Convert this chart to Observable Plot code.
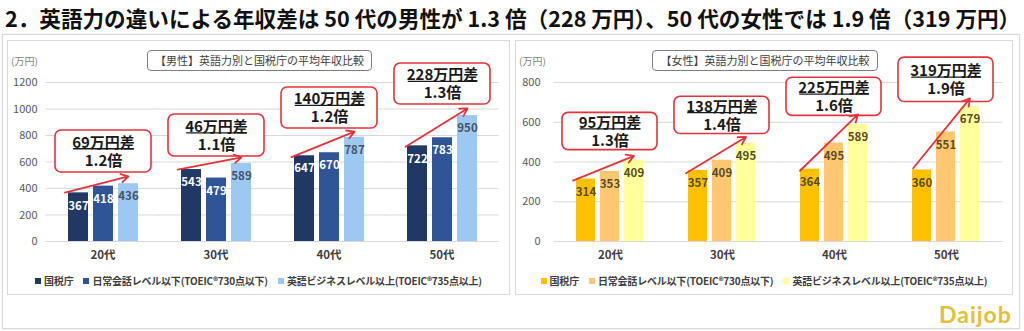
<!DOCTYPE html>
<html>
<head>
<meta charset="utf-8">
<script src="https://cdn.jsdelivr.net/npm/d3@7"></script>
<script src="https://cdn.jsdelivr.net/npm/@observablehq/plot@0.6"></script>
<style>
  body { margin:0; background:#fff; width:1024px; height:331px; position:relative; overflow:hidden;
         font-family:"Noto Sans CJK JP","Noto Sans",sans-serif; }
  .abs { position:absolute; }
  #title { left:5px; top:2px; font-size:21.6px; font-weight:bold; color:#111; white-space:nowrap; }
  #outer { left:2px; top:34px; width:1016px; height:293px; border:1px solid #d9d9d9; box-shadow:0 0 2px #e6e6e6; }
  .panel { top:40px; height:253px; border:1px solid #d9d9d9; }
  .unit { top:53px; font-size:10px; color:#7f7f7f; }
  .tbox { top:50px; height:19px; line-height:19px; border:1px solid #7f7f7f; border-radius:4px;
          font-size:11px; color:#404040; text-align:center; background:#fff; }
  .legend { top:273px; font-size:10px; font-weight:bold; color:#404040; white-space:nowrap; text-align:center; letter-spacing:-0.2px; }
  .legend span.sw { display:inline-block; width:6px; height:6px; margin-right:3px; vertical-align:1px; }
  .legend span.it { margin:0 5px; }
  #logo { left:939px; top:300px; font-family:Lato,"Open Sans",sans-serif; font-size:23px; font-weight:bold; color:#e2c03a; letter-spacing:1px; }
</style>
</head>
<body>
<div id="title" class="abs">2．英語力の違いによる年収差は 50 代の男性が 1.3 倍（228 万円）、50 代の女性では 1.9 倍（319 万円）</div>
<div id="outer" class="abs"></div>
<div id="pl" class="abs panel" style="left:7px;width:501px"></div>
<div id="pr" class="abs panel" style="left:515px;width:496px"></div>
<div id="cl" class="abs" style="left:7px;top:40px"></div>
<div id="cr" class="abs" style="left:515px;top:40px"></div>
<div class="abs unit" style="left:11px">(万円)</div>
<div class="abs unit" style="left:519px">(万円)</div>
<div class="abs tbox" style="left:147px;width:223px">【男性】英語力別と国税庁の平均年収比較</div>
<div class="abs tbox" style="left:652px;width:224px">【女性】英語力別と国税庁の平均年収比較</div>
<div id="ll" class="abs legend" style="left:7px;width:503px"></div>
<div id="lr" class="abs legend" style="left:515px;width:498px"></div>
<div id="logo" class="abs">Daijob</div>
<script>
// ---- data ----
const ages = ["20代", "30代", "40代", "50代"];
const seriesNames = ["国税庁", "日常会話レベル以下(TOEIC®730点以下)", "英語ビジネスレベル以上(TOEIC®735点以上)"];

const maleNTA   = [367, 543, 647, 722];
const maleDaily = [418, 479, 670, 783];
const maleBiz   = [436, 589, 787, 950];
const femaleNTA   = [314, 357, 364, 360];
const femaleDaily = [353, 409, 495, 551];
const femaleBiz   = [409, 495, 589, 679];

const maleTicks   = [0, 200, 400, 600, 800, 1000, 1200];
const femaleTicks = [0, 200, 400, 600, 800];

const maleDiff    = ["69万円差", "46万円差", "140万円差", "228万円差"];
const maleRatio   = ["1.2倍", "1.1倍", "1.2倍", "1.3倍"];
const femaleDiff  = ["95万円差", "138万円差", "225万円差", "319万円差"];
const femaleRatio = ["1.3倍", "1.4倍", "1.6倍", "1.9倍"];

// callout boxes and arrows, in 万円 units of each chart
const maleBoxTop      = [838, 958, 1162, 1343];
const maleBoxBottom   = [521, 642, 853, 1034];
const maleArrowFrom   = [395, 562, 676, 771];
const maleArrowTo     = [492, 635, 829, 1004];
const femaleBoxTop    = [647, 728, 824, 925];
const femaleBoxBottom = [460, 541, 632, 702];
const femaleArrowFrom = [333, 380, 405, 423];
const femaleArrowTo   = [431, 526, 640, 720];

const maleColors   = ["#1f3864", "#2f5597", "#9dc8f2"];
const femaleColors = ["#ffc000", "#ffc870", "#ffff9c"];
const maleLabelColors   = ["#ffffff", "#ffffff", "#44546a"];
const femaleLabelColors = ["#5a4b22", "#5a4b22", "#5a4b22"];

const RED = "#e2343c";
const FONT = '"Noto Sans CJK JP","Noto Sans",sans-serif';

function chart(cfg) {
  const rows = ages.flatMap((a, i) => cfg.series.map((arr, j) => ({age: a, series: seriesNames[j], value: arr[i]})));
  const calls = ages.map((a, i) => ({
    age: a, s1: seriesNames[0], s2: seriesNames[1], s3: seriesNames[2],
    top: cfg.boxTop[i], bottom: cfg.boxBottom[i], mid: (cfg.boxTop[i] + cfg.boxBottom[i]) / 2,
    from: cfg.arrowFrom[i], to: cfg.arrowTo[i], diff: cfg.diff[i], ratio: cfg.ratio[i]
  }));
  const labelMarks = seriesNames.map((s, j) =>
    Plot.text(rows.filter(d => d.series === s), {
      fx: "age", x: "series", y: "value", text: d => String(d.value),
      dy: 13, fontSize: 11.5, fontWeight: "bold", fill: cfg.labelColors[j]
    }));
  return Plot.plot({
    width: cfg.width, height: 230,
    marginLeft: 57, marginRight: cfg.marginRight, marginTop: 42, marginBottom: 29,
    style: {fontFamily: FONT, fontSize: "11px", color: "#595959", background: "transparent", overflow: "visible"},
    fx: {domain: ages, paddingInner: 0.34, paddingOuter: 0},
    x: {domain: seriesNames, paddingInner: 0.2, paddingOuter: 0.1, axis: null},
    y: {domain: [0, cfg.max]},
    color: {domain: seriesNames, range: cfg.colors},
    marks: [
      Plot.ruleY(cfg.ticks, {stroke: "#d9d9d9", strokeWidth: 1, insetLeft: -19.5, insetRight: -19.5}),
      Plot.axisY({ticks: cfg.ticks, tickFormat: d => String(d), tickSize: 0, tickPadding: cfg.tickPadding, label: null, fill: "#595959", fontSize: 11, facetAnchor: "left"}),
      Plot.axisFx({anchor: "bottom", tickSize: 0, tickPadding: 9, label: null, fontWeight: "bold", fill: "#404040", fontSize: 11.5}),
      Plot.barY(rows, {fx: "age", x: "series", y: "value", fill: "series"}),
      ...labelMarks,
      Plot.barY(calls, {fx: "age", x: "s2", y1: "bottom", y2: "top", fill: "white", stroke: RED, strokeWidth: 1.6, rx: 6, insetLeft: -38, insetRight: -38}),
      Plot.arrow(calls, {fx: "age", x1: "s1", y1: "from", x2: "s3", y2: "to", stroke: RED, strokeWidth: 1.8, headLength: 7, insetStart: -14}),
      Plot.text(calls, {fx: "age", x: "s2", y: "mid", text: "diff", dy: -8.5, fontSize: 15, fontWeight: "bold", fill: "#1a1a1a"}),
      Plot.text(calls, {fx: "age", x: "s2", y: "mid", text: "ratio", dy: 9.5, fontSize: 15, fontWeight: "bold", fill: "#1a1a1a"})
    ]
  });
}

// underline the "…万円差" lines, measured from the rendered text
function underline(svg, diffs) {
  const NS = "http://www.w3.org/2000/svg";
  svg.querySelectorAll("text").forEach(t => {
    if (!diffs.includes(t.textContent)) return;
    const b = t.getBBox();
    const ln = document.createElementNS(NS, "line");
    const yy = b.y + b.height - 3;
    ln.setAttribute("x1", b.x + 1); ln.setAttribute("x2", b.x + b.width - 1);
    ln.setAttribute("y1", yy); ln.setAttribute("y2", yy);
    ln.setAttribute("stroke", "#1a1a1a"); ln.setAttribute("stroke-width", "1.3");
    if (t.getAttribute("transform")) ln.setAttribute("transform", t.getAttribute("transform"));
    t.parentNode.appendChild(ln);
  });
}

const svgL = chart({
  width: 503, marginRight: 30, max: 1200, ticks: maleTicks, tickPadding: 28,
  series: [maleNTA, maleDaily, maleBiz], colors: maleColors, labelColors: maleLabelColors,
  boxTop: maleBoxTop, boxBottom: maleBoxBottom, arrowFrom: maleArrowFrom, arrowTo: maleArrowTo,
  diff: maleDiff, ratio: maleRatio
});
const svgR = chart({
  width: 498, marginRight: 29, max: 800, ticks: femaleTicks, tickPadding: 33,
  series: [femaleNTA, femaleDaily, femaleBiz], colors: femaleColors, labelColors: femaleLabelColors,
  boxTop: femaleBoxTop, boxBottom: femaleBoxBottom, arrowFrom: femaleArrowFrom, arrowTo: femaleArrowTo,
  diff: femaleDiff, ratio: femaleRatio
});
document.getElementById("cl").appendChild(svgL);
document.getElementById("cr").appendChild(svgR);
underline(svgL, maleDiff);
underline(svgR, femaleDiff);

function legend(el, colors) {
  el.innerHTML = seriesNames.map((s, i) =>
    `<span class="it"><span class="sw" style="background:${colors[i]}"></span>${s}</span>`).join("");
}
legend(document.getElementById("ll"), maleColors);
legend(document.getElementById("lr"), femaleColors);
</script>
</body>
</html>
